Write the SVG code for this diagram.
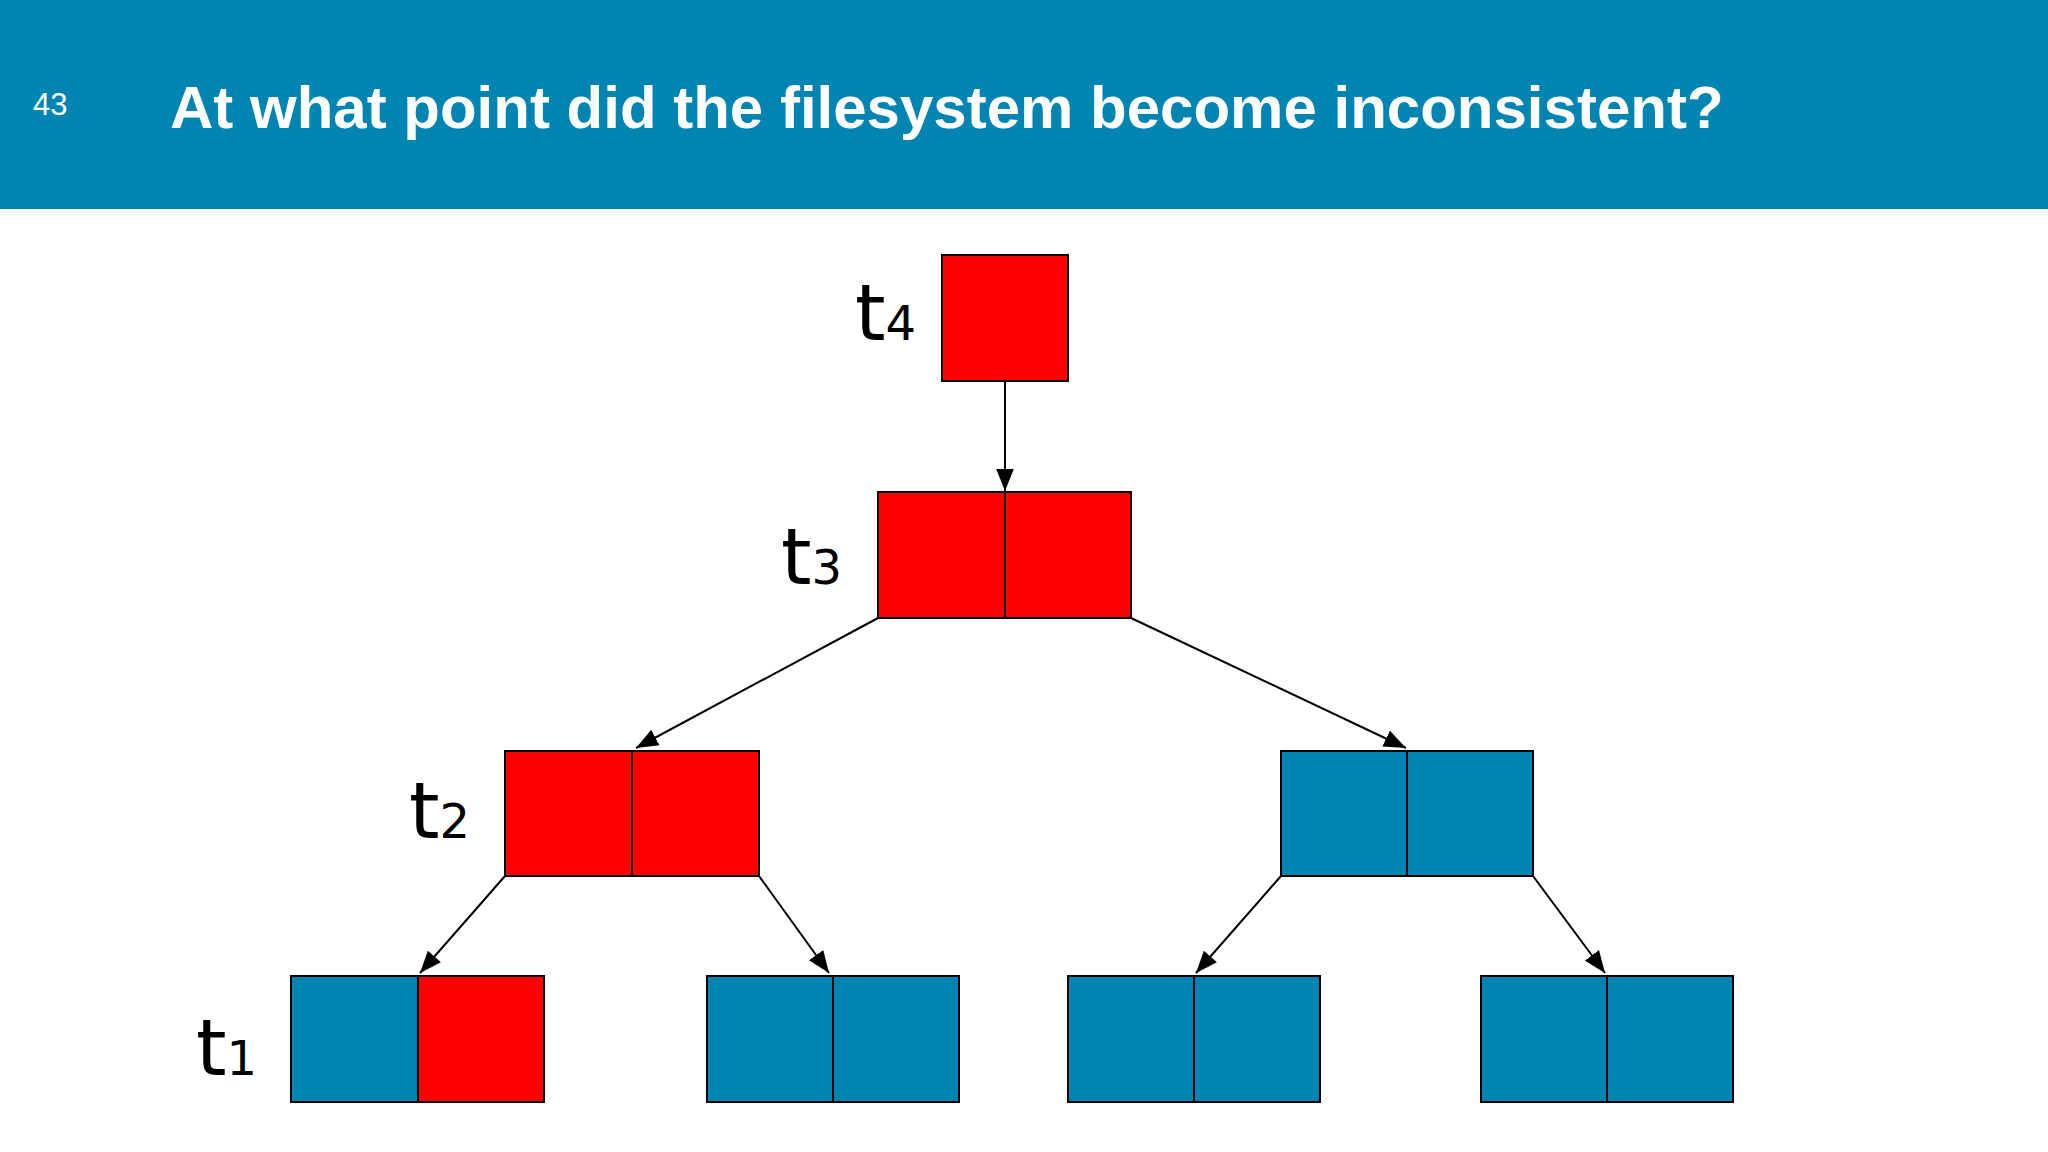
<svg xmlns="http://www.w3.org/2000/svg" width="2048" height="1152" viewBox="0 0 2048 1152">
<defs>
<style>
.r{fill:#FF0000;stroke:#000;stroke-width:2}
.b{fill:#0085B2;stroke:#000;stroke-width:2}
.c{stroke:#000;stroke-width:2;fill:none;marker-end:url(#ah)}
.lbl{font-family:"DejaVu Sans",sans-serif;font-size:78px;fill:#000}
</style>
<marker id="ah" viewBox="0 0 10 10" refX="10" refY="5" markerWidth="10" markerHeight="10" markerUnits="userSpaceOnUse" orient="auto"><path d="M0,0 L10,5 L0,10 z" fill="#000" transform="scale(1)"/></marker>
<marker id="ah2" viewBox="0 0 20 16" refX="20" refY="8" markerWidth="22" markerHeight="18" markerUnits="userSpaceOnUse" orient="auto"><path d="M0,0 L20,8 L0,16 z" fill="#000"/></marker>
</defs>
<rect width="2048" height="1152" fill="#fff"/>
<rect width="2048" height="209" fill="#0085B2"/>
<text x="33" y="115" font-family="Liberation Sans,sans-serif" font-size="31" fill="#fff">43</text>
<text x="170" y="128" font-family="Liberation Sans,sans-serif" font-size="60" font-weight="bold" fill="#fff">At what point did the filesystem become inconsistent?</text>
<g id="connectors">
<line x1="1005" y1="381" x2="1005" y2="491" stroke="#000" stroke-width="2" marker-end="url(#ah2)"/>
<line x1="878" y1="618" x2="636" y2="748" stroke="#000" stroke-width="2" marker-end="url(#ah2)"/>
<line x1="1131" y1="618" x2="1406" y2="748" stroke="#000" stroke-width="2" marker-end="url(#ah2)"/>
<line x1="505" y1="876" x2="420" y2="973" stroke="#000" stroke-width="2" marker-end="url(#ah2)"/>
<line x1="759" y1="876" x2="829" y2="973" stroke="#000" stroke-width="2" marker-end="url(#ah2)"/>
<line x1="1281" y1="876" x2="1196" y2="973" stroke="#000" stroke-width="2" marker-end="url(#ah2)"/>
<line x1="1533" y1="876" x2="1605" y2="973" stroke="#000" stroke-width="2" marker-end="url(#ah2)"/>
</g>
<g id="n4"><rect class="r" x="942" y="255" width="126" height="126"/><text class="lbl" x="855" y="340">t<tspan font-size="48">4</tspan></text></g>
<g id="n3"><rect class="r" x="878" y="492" width="127" height="126"/><rect class="r" x="1005" y="492" width="126" height="126"/><text class="lbl" x="781" y="584">t<tspan font-size="48">3</tspan></text></g>
<g id="n2a"><rect class="r" x="505" y="751" width="127" height="125"/><rect class="r" x="632" y="751" width="127" height="125"/><text class="lbl" x="409" y="838">t<tspan font-size="48">2</tspan></text></g>
<g id="n2b"><rect class="b" x="1281" y="751" width="126" height="125"/><rect class="b" x="1407" y="751" width="126" height="125"/></g>
<g id="n1a"><rect class="b" x="291" y="976" width="127" height="126"/><rect class="r" x="418" y="976" width="126" height="126"/><text class="lbl" x="196" y="1075">t<tspan font-size="48">1</tspan></text></g>
<g id="n1b"><rect class="b" x="707" y="976" width="126" height="126"/><rect class="b" x="833" y="976" width="126" height="126"/></g>
<g id="n1c"><rect class="b" x="1068" y="976" width="126" height="126"/><rect class="b" x="1194" y="976" width="126" height="126"/></g>
<g id="n1d"><rect class="b" x="1481" y="976" width="126" height="126"/><rect class="b" x="1607" y="976" width="126" height="126"/></g>
</svg>
